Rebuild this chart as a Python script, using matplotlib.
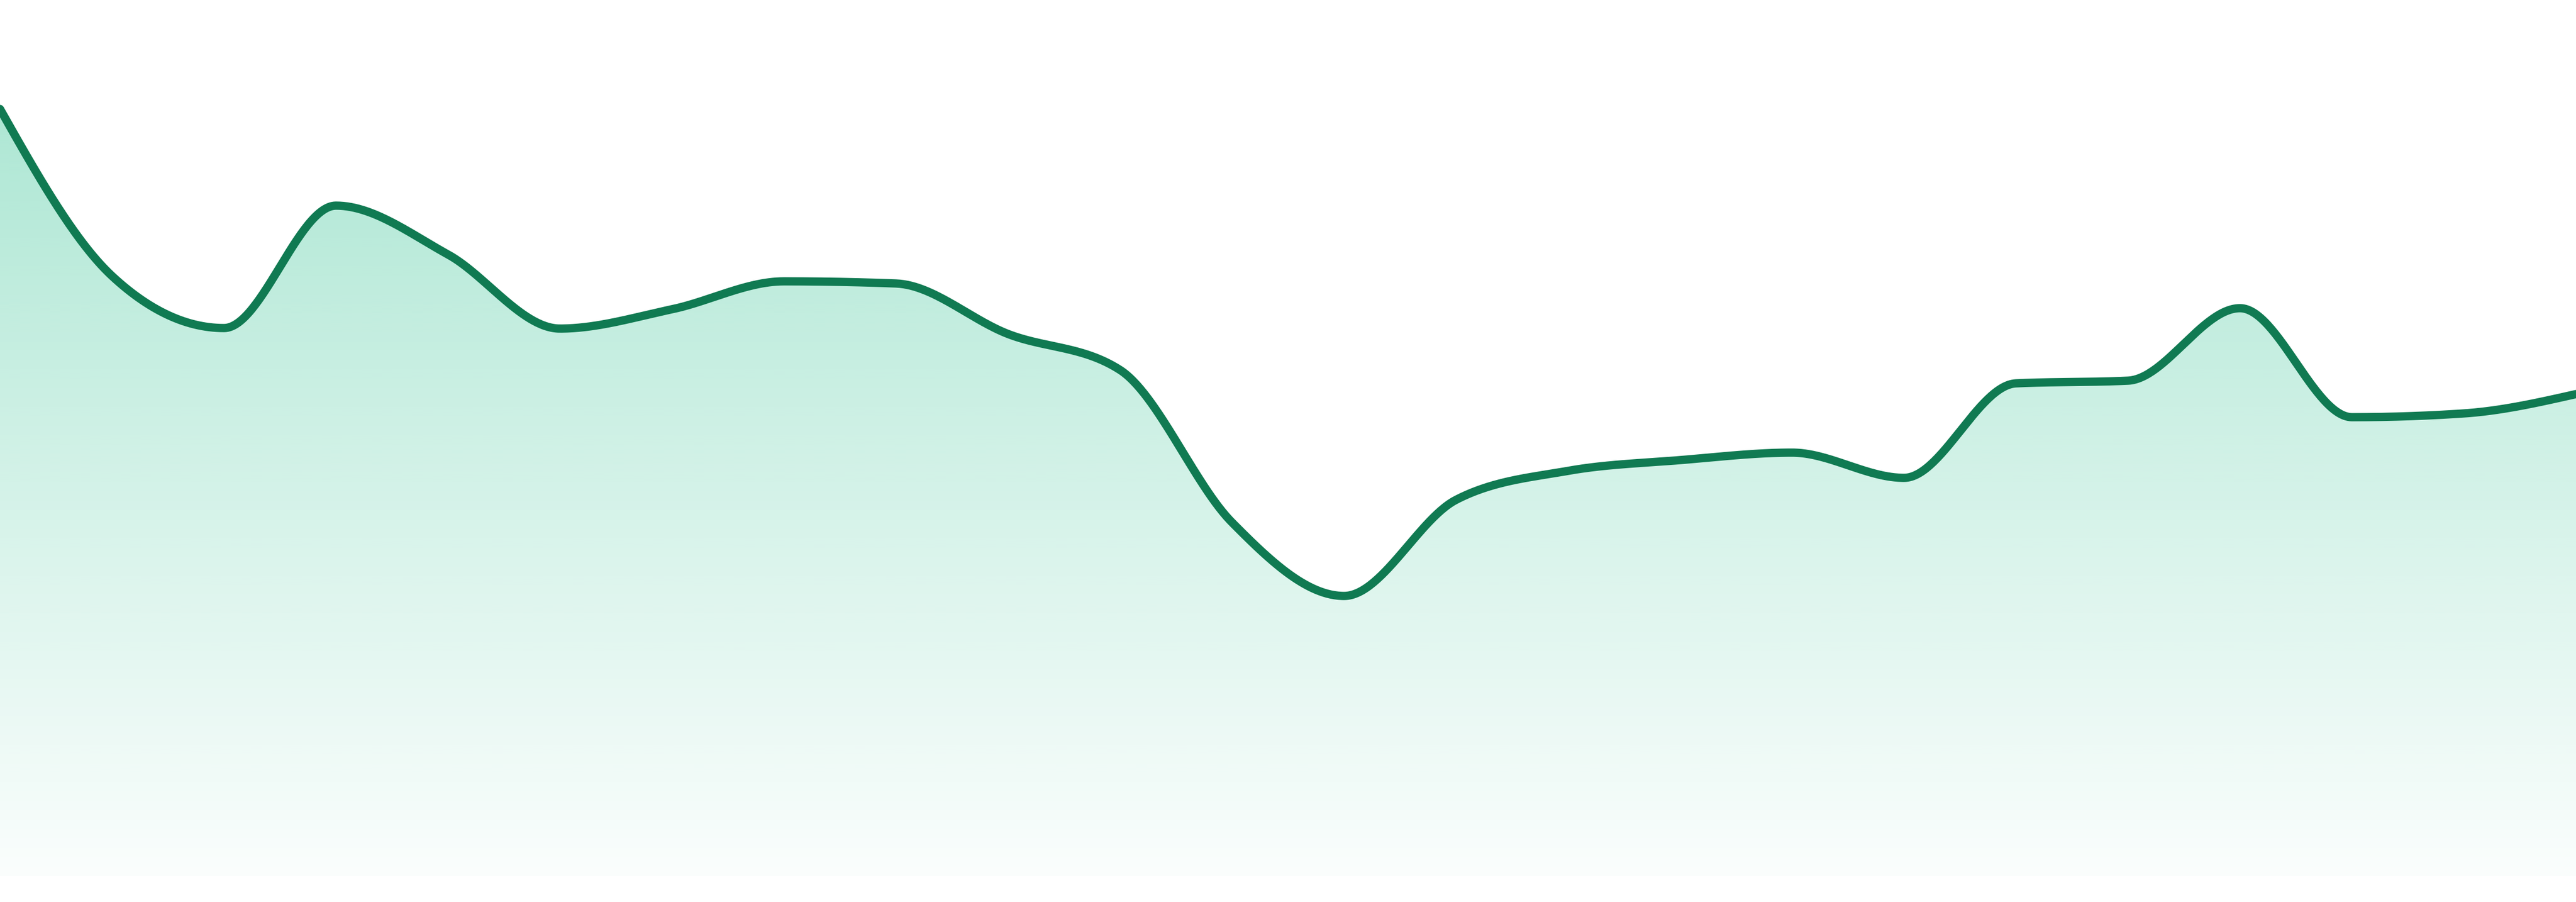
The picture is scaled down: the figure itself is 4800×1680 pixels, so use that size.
import numpy as np
import matplotlib
matplotlib.use("Agg")
import matplotlib.pyplot as plt
from matplotlib.patches import Polygon

# one value per step
values = [142.9, 111.8, 102.1, 124.9, 115.8, 102.0, 105.6, 110.8, 110.4, 101.0,
          94.3, 65.9, 52.2, 70.1, 75.5, 77.5, 78.9, 74.2, 91.8, 92.3,
          105.8, 85.5, 86.2, 89.8]
steps = list(range(len(values)))

line_color = "#107a52"
fill_color = (16 / 255, 185 / 255, 129 / 255)


def monotone_x(xs, ys, n=60):
    # same tangents as d3.curveMonotoneX
    xs = np.asarray(xs, float)
    ys = np.asarray(ys, float)
    h = np.diff(xs)
    s = np.diff(ys) / h
    t = np.zeros(len(xs))
    for i in range(1, len(xs) - 1):
        s0, s1 = s[i - 1], s[i]
        p = (s0 * h[i] + s1 * h[i - 1]) / (h[i - 1] + h[i])
        t[i] = (np.sign(s0) + np.sign(s1)) * min(abs(s0), abs(s1), 0.5 * abs(p))
    t[0] = (3 * s[0] - t[1]) / 2
    t[-1] = (3 * s[-1] - t[-2]) / 2
    out_x, out_y = [], []
    for i in range(len(xs) - 1):
        u = np.linspace(0, 1, n, endpoint=(i == len(xs) - 2))
        h00 = 2 * u**3 - 3 * u**2 + 1
        h10 = u**3 - 2 * u**2 + u
        h01 = -2 * u**3 + 3 * u**2
        h11 = u**3 - u**2
        out_x.append(xs[i] + u * h[i])
        out_y.append(h00 * ys[i] + h10 * h[i] * t[i] + h01 * ys[i + 1] + h11 * h[i] * t[i + 1])
    return np.concatenate(out_x), np.concatenate(out_y)


sx, sy = monotone_x(steps, values)

fig = plt.figure(figsize=(16, 5.6), dpi=300)
ax = fig.add_axes([0, 48 / 1680, 1, 1632 / 1680])
ax.set_xlim(steps[0], steps[-1])
ax.set_ylim(0, 163.2)
ax.axis("off")

# gradient fill under the curve
grad = np.zeros((256, 1, 4))
grad[:, 0, :3] = fill_color
grad[:, 0, 3] = np.linspace(0.02, 0.34, 256)
top = max(values)
im = ax.imshow(grad, extent=[steps[0], steps[-1], 0, top], origin="lower",
               aspect="auto", interpolation="bilinear", zorder=1)
poly = Polygon(np.column_stack([np.r_[sx, sx[-1], sx[0]], np.r_[sy, 0, 0]]),
               closed=True, facecolor="none", edgecolor="none")
ax.add_patch(poly)
im.set_clip_path(poly)

ax.plot(sx, sy, color=line_color, lw=3.7, solid_capstyle="round",
        solid_joinstyle="round", zorder=2)

fig.savefig("out.png", dpi=300, facecolor="white")
